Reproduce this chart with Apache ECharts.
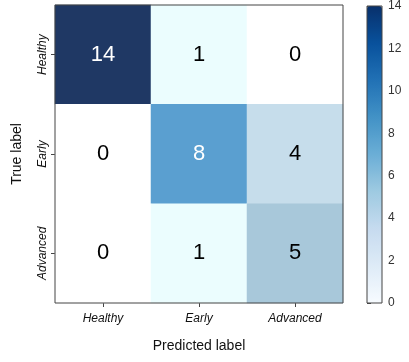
<!DOCTYPE html>
<html lang="en">
<head>
    <meta charset="UTF-8">
    <title></title>
    <script src="https://cdn.jsdelivr.net/npm/echarts@6/dist/echarts.min.js"></script>
    <style>
        html, body { margin: 0; padding: 0; background: #fff; }
        #chart { width: 409px; height: 362px; }
    </style>
</head>
<body>
<div id="chart"></div>
<script>
    var classes = ['Healthy', 'Early', 'Advanced'];
    // rows = true label, columns = predicted label
    var counts = [
        [14, 1, 0],
        [0, 8, 4],
        [0, 1, 5]
    ];
    var cbTicks = [0, 2, 4, 6, 8, 10, 12, 14];

    var cells = [];
    for (var r = 0; r < counts.length; r++) {
        for (var c = 0; c < counts[r].length; c++) {
            cells.push([c, r, counts[r][c]]);
        }
    }

    // colours as they appear in the picture
    var cellColor = {0: '#ffffff', 1: '#ebfdfe', 4: '#c6ddeb', 5: '#a8c8da', 8: '#5a9fd0', 14: '#1f3864'};
    var font = 'Liberation Sans, Arial, sans-serif';

    var option = {
        animation: false,
        backgroundColor: '#fff',
        grid: [
            {left: 55, top: 5, width: 288, height: 298, show: true, borderColor: '#444', borderWidth: 1, z: 10, backgroundColor: 'transparent'},
            {left: 367, top: 6, width: 15, height: 297, show: true, borderColor: '#444', borderWidth: 1, z: 10, backgroundColor: 'transparent'}
        ],
        xAxis: [
            {
                type: 'category', gridIndex: 0, data: classes,
                axisLine: {show: false},
                axisTick: {show: true, alignWithLabel: true, length: 4, lineStyle: {color: '#444'}},
                axisLabel: {fontStyle: 'italic', fontFamily: font, fontSize: 12, color: '#111', margin: 10},
                splitLine: {show: false},
                name: 'Predicted label', nameLocation: 'middle', nameGap: 36,
                nameTextStyle: {fontFamily: font, fontSize: 14, color: '#111'}
            },
            {type: 'value', gridIndex: 1, show: false, min: 0, max: 1}
        ],
        yAxis: [
            {
                type: 'category', gridIndex: 0, data: classes, inverse: true,
                axisLine: {show: false},
                axisTick: {show: true, alignWithLabel: true, length: 4, lineStyle: {color: '#444'}},
                axisLabel: {rotate: 90, fontStyle: 'italic', fontFamily: font, fontSize: 12, color: '#111', margin: 6},
                splitLine: {show: false},
                name: 'True label', nameLocation: 'middle', nameGap: 31, nameRotate: 90,
                nameTextStyle: {fontFamily: font, fontSize: 14, color: '#111'}
            },
            {
                type: 'value', gridIndex: 1, position: 'right', min: 0, max: 14, interval: 2,
                axisLine: {show: false},
                axisTick: {show: true, length: 4, lineStyle: {color: '#444'}},
                axisLabel: {fontFamily: font, fontSize: 12, color: '#333', margin: 6},
                splitLine: {show: false}
            }
        ],
        visualMap: {
            type: 'continuous', min: 0, max: 14, seriesIndex: 1,
            calculable: false, left: 367, top: 6, padding: 0,
            itemWidth: 15, itemHeight: 297,
            inRange: {color: ['#f7fbff', '#deebf7', '#c6dbef', '#9ecae1', '#6baed6', '#4292c6', '#2171b5', '#08519c', '#08306b']}
        },
        series: [
            {
                type: 'heatmap', xAxisIndex: 0, yAxisIndex: 0,
                data: cells.map(function (d) {
                    // white numbers on the dark cells
                    return {value: d, label: {color: d[2] > 7 ? '#fff' : '#000'}};
                }),
                itemStyle: {
                    color: function (p) { return cellColor[p.value[2]] || '#ffffff'; }
                },
                label: {
                    show: true, fontFamily: font, fontSize: 22,
                    formatter: function (p) { return p.value[2]; }
                },
                emphasis: {disabled: true}
            },
            {
                type: 'scatter', xAxisIndex: 1, yAxisIndex: 1, symbolSize: 0,
                data: cbTicks.map(function (t) { return [0.5, t, t]; }),
                silent: true
            }
        ]
    };

    var chart = echarts.init(document.getElementById('chart'));
    chart.setOption(option);
</script>
</body>
</html>
